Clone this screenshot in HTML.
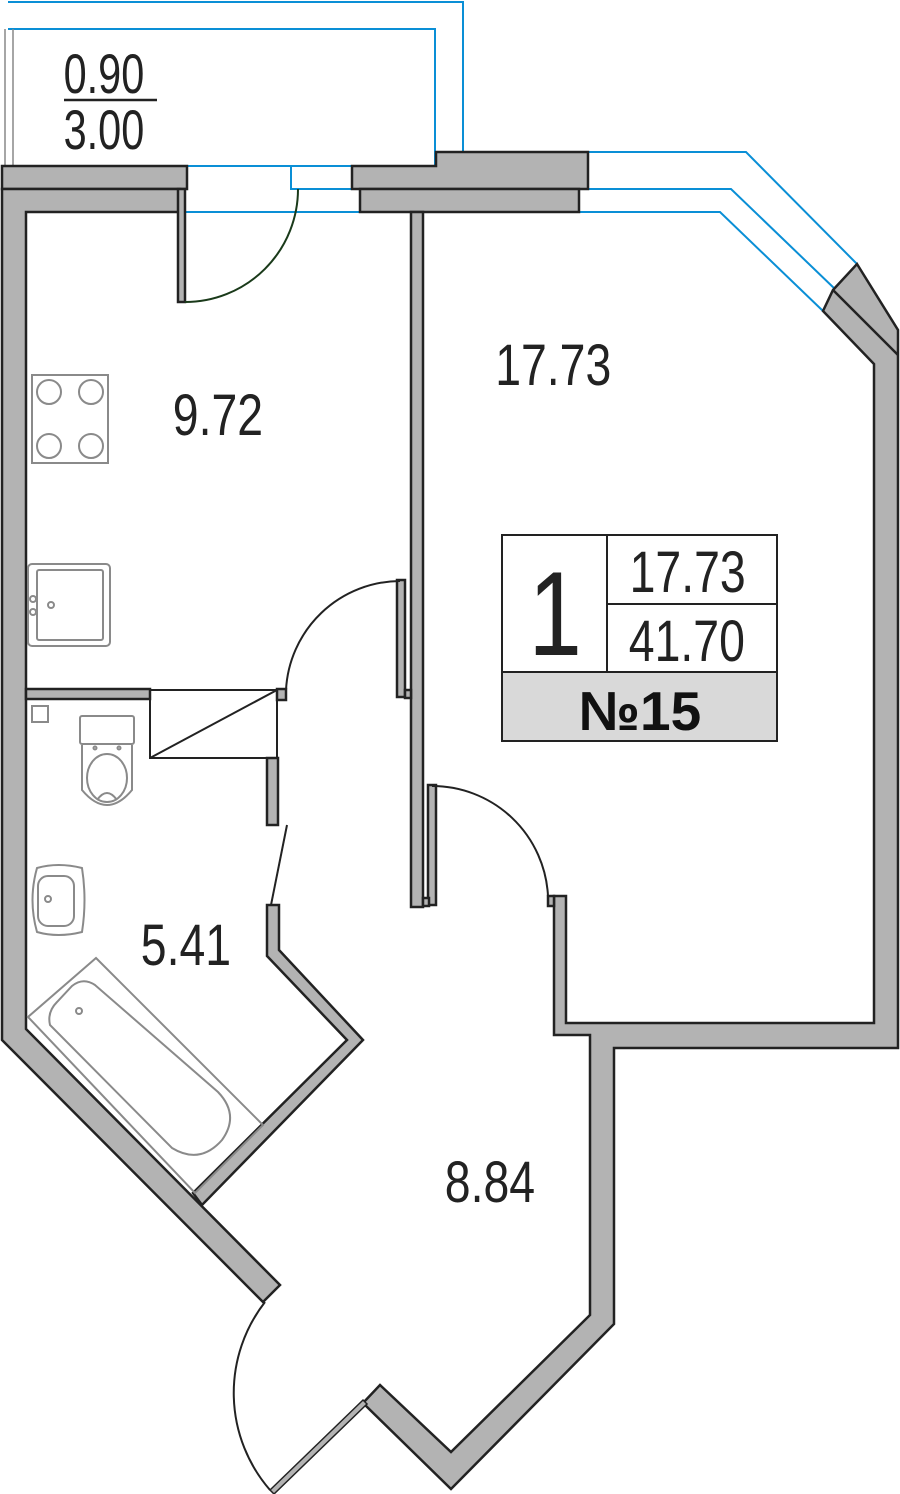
<!DOCTYPE html>
<html><head><meta charset="utf-8"><style>
html,body{margin:0;padding:0;background:#fff;}
svg{display:block;}
text{font-family:"Liberation Sans",sans-serif;fill:#222;}
</style></head><body>
<svg width="900" height="1494" viewBox="0 0 900 1494" xmlns="http://www.w3.org/2000/svg">
<g fill="none" stroke="#0a8fd6" stroke-width="2">
<polyline points="8,2 463,2 463,152"/>
<polyline points="8,29 435,29 435,166"/>
<line x1="187" y1="166" x2="352" y2="166"/>
<polyline points="291,166 291,189 352,189"/>
<line x1="185" y1="212" x2="360" y2="212"/>
<polyline points="588,152 746,152 857,264"/>
<polyline points="588,189 731,189 836,290"/>
<polyline points="579,212 720,212 823,311"/>
</g>
<g stroke="#888" stroke-width="1.5"><line x1="5" y1="29" x2="5" y2="166"/><line x1="13" y1="29" x2="13" y2="166"/></g>
<g fill="#b3b3b3" stroke="#222" stroke-width="2.5" stroke-linejoin="miter">
<rect x="2" y="166" width="185" height="23"/>
<polygon points="2,189 180,189 180,212 26,212 26,1029 280,1285 263,1302 2,1040"/>
<polygon points="352,166 436,166 436,152 588,152 588,189 352,189"/>
<rect x="360" y="189" width="219" height="23"/>
<polygon points="857,264 898,330 898,1048 614,1048 614,1324 451,1489 363,1403 380,1385 451,1452 590,1315 590,1035 554,1035 554,896 566,896 566,1023 874,1023 874,364 823,311 833,290"/>
<line x1="833" y1="290" x2="898" y2="355"/>
<rect x="411" y="212" width="12" height="695"/>
<rect x="397" y="580" width="8" height="117"/>
<rect x="405" y="690" width="6" height="8"/>
<rect x="428" y="785" width="8" height="120"/>
<rect x="423" y="898" width="6" height="8"/>
<rect x="548" y="896" width="6" height="10"/>
<rect x="178" y="189" width="7" height="113"/>
<rect x="26" y="689" width="124" height="10"/>
<rect x="277" y="689" width="9" height="11"/>
<rect x="267" y="758" width="11" height="67"/>
<polygon points="267,905 279,905 279,950 363,1040 202,1205 193,1193 347,1040 267,956"/>
</g>
<g fill="none" stroke="#222" stroke-width="2">
<rect x="150" y="690" width="127" height="68"/>
<line x1="150" y1="758" x2="277" y2="690"/>
</g>
<g fill="none" stroke-width="2">
<path d="M185,302 A113,113 0 0 0 298,189" stroke="#1a3a1a"/>
<path d="M400,581 A115,115 0 0 0 286,690" stroke="#222"/>
<path d="M432,786 A116,116 0 0 1 548,896" stroke="#222"/>
<line x1="287" y1="825" x2="271" y2="905" stroke="#222"/>
<path d="M265,1302 A148,148 0 0 0 270,1490" stroke="#222"/>
<polygon points="270,1490 363,1400 367,1404 274,1494" fill="#b3b3b3" stroke="#222" stroke-width="1.5"/>
</g>
<g fill="none" stroke="#8a8a8a" stroke-width="2">
<rect x="32" y="375" width="76" height="88"/>
<circle cx="49" cy="392" r="12"/><circle cx="91" cy="392" r="12"/>
<circle cx="49" cy="446" r="12"/><circle cx="91" cy="446" r="12"/>
<rect x="28" y="564" width="82" height="82" rx="4"/>
<rect x="37" y="570" width="66" height="70" rx="2"/>
<circle cx="33" cy="599" r="3"/><circle cx="33" cy="612" r="3"/><circle cx="51" cy="605" r="3"/>
<rect x="32" y="706" width="16" height="16"/>
<rect x="80" y="716" width="54" height="28" rx="2"/>
<path d="M82,745 L82,790 Q107,820 132,790 L132,745"/>
<ellipse cx="107" cy="778" rx="20" ry="24"/>
<path d="M97,800 Q107,786 117,800"/>
<circle cx="95" cy="748" r="1.5"/><circle cx="119" cy="748" r="1.5"/>
<path d="M37,868 Q58,862 82,868 Q87,900 82,932 Q58,938 37,932 Q28,900 37,868 Z"/>
<rect x="38" y="876" width="36" height="50" rx="10"/>
<circle cx="48" cy="899" r="3"/>
<polygon points="96,958 263,1125 195,1193 28,1017"/>
<path d="M50,1025 Q47,1012 57,1002 L72,986 Q83,977 95,985 L218,1092 Q240,1115 222,1140 Q200,1165 172,1148 Z"/>
<circle cx="79" cy="1011" r="3"/>
</g>
<g transform="scale(0.74,1)">
<text x="86" y="93" font-size="56">0.90</text>
<text x="86" y="149" font-size="56">3.00</text>
</g>
<g transform="scale(0.8,1)">
<text x="619" y="385" font-size="58">17.73</text>
<text x="216" y="435" font-size="58">9.72</text>
<text x="176" y="965" font-size="58">5.41</text>
<text x="556" y="1202" font-size="58">8.84</text>
<text x="787" y="592" font-size="58">17.73</text>
<text x="786" y="661" font-size="58">41.70</text>
<text x="694" y="655" font-size="120" text-anchor="middle">1</text>
</g>
<line x1="64" y1="100" x2="157" y2="100" stroke="#222" stroke-width="2.5"/>
<rect x="502" y="672" width="275" height="69" fill="#d9d9d9"/>
<g fill="none" stroke="#222" stroke-width="2">
<rect x="502" y="535" width="275" height="206"/>
<line x1="607" y1="535" x2="607" y2="672"/>
<line x1="607" y1="604" x2="777" y2="604"/>
<line x1="502" y1="672" x2="777" y2="672"/>
</g>
<text x="640" y="730" font-size="55" font-weight="bold" text-anchor="middle" style="fill:#111">№15</text>
</svg>
</body></html>
